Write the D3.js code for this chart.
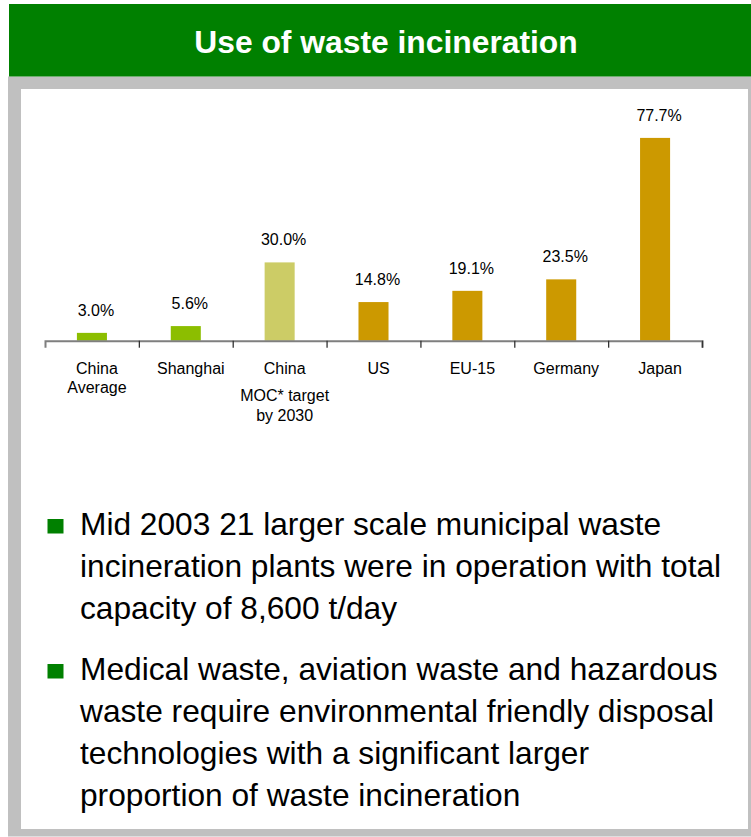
<!DOCTYPE html>
<html>
<head>
<meta charset="utf-8">
<script src="https://cdn.jsdelivr.net/npm/d3@7"></script>
<style>
  body { margin: 0; background: #fff; }
  svg { display: block; font-family: "Liberation Sans", Arial, sans-serif; }
</style>
</head>
<body>
<svg width="751" height="837"></svg>
<script>
const title = "Use of waste incineration";

// chart data ("" = small gap between label lines)
const categories = [
  ["China", "Average"],
  ["Shanghai"],
  ["China", "", "MOC* target", "by 2030"],
  ["US"],
  ["EU-15"],
  ["Germany"],
  ["Japan"]
];
const values = [3.0, 5.6, 30.0, 14.8, 19.1, 23.5, 77.7];
const barColors = ["#8cbe00", "#8cbe00", "#cccc66", "#cc9900", "#cc9900", "#cc9900", "#cc9900"];

const bullets = [
  ["Mid 2003 21 larger scale municipal waste",
   "incineration plants were in operation with total",
   "capacity of 8,600 t/day"],
  ["Medical waste, aviation waste and hazardous",
   "waste require environmental friendly disposal",
   "technologies with a significant larger",
   "proportion of waste incineration"]
];

const svg = d3.select("svg");

// frame
svg.append("rect")
  .attr("x", 8).attr("y", 76.5)
  .attr("width", 743).attr("height", 760)
  .attr("fill", "#c0c0c0");
svg.append("rect")
  .attr("x", 21).attr("y", 89)
  .attr("width", 727).attr("height", 740)
  .attr("fill", "#fff");

// header
svg.append("rect")
  .attr("x", 9).attr("y", 4)
  .attr("width", 742).attr("height", 72.5)
  .attr("fill", "#008000");
svg.append("text")
  .attr("x", 386).attr("y", 53)
  .attr("text-anchor", "middle")
  .attr("fill", "#fff")
  .attr("font-size", 31.8)
  .attr("font-weight", "bold")
  .text(title);

// chart
const axisY = 340.7;
const x = d3.scaleBand()
  .domain(d3.range(values.length))
  .range([45, 702])
  .padding(0);
const slot = d3.scaleLinear().domain([0, values.length]).range([45, 702]);
const y = d3.scaleLinear().domain([0, 80]).range([axisY, axisY - 80 * 2.61]);
const barW = x.bandwidth() * 0.32;
const textShift = 4;

const g = svg.append("g");

g.selectAll("rect.bar")
  .data(values)
  .join("rect")
  .attr("class", "bar")
  .attr("x", (d, i) => x(i) + (x.bandwidth() - barW) / 2)
  .attr("y", d => y(d))
  .attr("width", barW)
  .attr("height", d => y(0) - y(d))
  .attr("fill", (d, i) => barColors[i]);

g.selectAll("text.val")
  .data(values)
  .join("text")
  .attr("class", "val")
  .attr("x", (d, i) => x(i) + x.bandwidth() / 2 + textShift)
  .attr("y", d => y(d) - 17)
  .attr("text-anchor", "middle")
  .attr("font-size", 16)
  .attr("fill", "#000")
  .text(d => d.toFixed(1) + "%");

const axis = g.append("g")
  .attr("transform", `translate(0,${axisY})`)
  .call(d3.axisBottom(slot)
    .tickValues(d3.range(1, values.length + 1))
    .tickFormat("")
    .tickSizeOuter(0)
    .tickSize(7));
axis.select(".domain").attr("stroke", "#7f7f7f").attr("stroke-width", 2);
axis.selectAll(".tick line").attr("stroke", "#333").attr("stroke-width", 1.3);

// category labels
const catY = 374, catLineH = 19.3, catGap = 8;
categories.forEach((lines, i) => {
  const cx = x(i) + x.bandwidth() / 2 + textShift + 1;
  let ly = catY;
  let first = true;
  lines.forEach(line => {
    if (line === "") { ly += catGap; return; }
    if (!first) ly += catLineH;
    g.append("text")
      .attr("class", "cat")
      .attr("x", cx)
      .attr("y", ly)
      .attr("text-anchor", "middle")
      .attr("font-size", 16)
      .attr("fill", "#000")
      .text(line);
    first = false;
  });
});

// bullets
const bulletTop = [535, 680];
const lineH = 42;
bullets.forEach((lines, b) => {
  const by = bulletTop[b];
  svg.append("rect")
    .attr("x", 47.5).attr("y", by - 16)
    .attr("width", 16).attr("height", 14.5)
    .attr("fill", "#008000");
  svg.append("g").selectAll("text")
    .data(lines)
    .join("text")
    .attr("x", 80)
    .attr("y", (d, i) => by + i * lineH)
    .attr("font-size", 31.7)
    .attr("fill", "#000")
    .text(d => d);
});
</script>
</body>
</html>
